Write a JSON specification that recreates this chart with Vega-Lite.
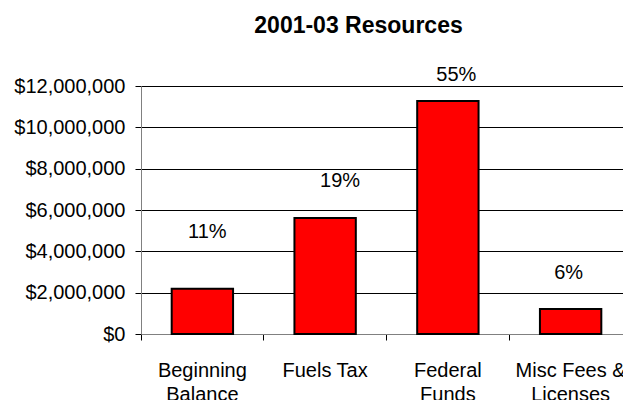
{
  "$schema": "https://vega.github.io/schema/vega-lite/v6.json",
  "width": 482,
  "height": 248,
  "autosize": {"type": "none"},
  "padding": {"left": 141, "top": 86, "right": 0, "bottom": 66},
  "background": "white",
  "title": {
    "text": "2001-03 Resources",
    "font": "Liberation Sans",
    "fontSize": 23,
    "fontWeight": "bold",
    "color": "#000000",
    "anchor": "middle",
    "dx": -23.5,
    "baseline": "alphabetic",
    "offset": 9
  },
  "config": {
    "view": {"stroke": null},
    "axis": {"labelFont": "Liberation Sans", "labelFontSize": 20, "labelColor": "#000000"}
  },
  "data": {
    "values": [
      {"category": "Beginning Balance", "amount": 2190000, "share": "11%"},
      {"category": "Fuels Tax", "amount": 5610000, "share": "19%"},
      {"category": "Federal Funds", "amount": 11280000, "share": "55%"},
      {"category": "Misc Fees & Licenses", "amount": 1210000, "share": "6%"}
    ]
  },
  "resolve": {"axis": {"x": "independent"}},
  "layer": [
    {
      "mark": {"type": "bar", "fill": "#ff0000", "stroke": "#000000", "strokeWidth": 2},
      "encoding": {
        "x": {
          "field": "category", "type": "nominal", "sort": null,
          "scale": {"range": [0, 491], "paddingInner": 0.5, "paddingOuter": 0.25},
          "axis": {
            "orient": "bottom", "title": null, "labels": false, "grid": false,
            "domain": true, "domainColor": "#808080", "domainWidth": 1,
            "ticks": true, "tickSize": 6, "tickColor": "#000000", "bandPosition": -0.5
          }
        },
        "y": {
          "field": "amount", "type": "quantitative",
          "scale": {"domain": [0, 12000000], "nice": false},
          "axis": {
            "title": null, "values": [0, 2000000, 4000000, 6000000, 8000000, 10000000, 12000000],
            "format": "$,.0f", "grid": true, "gridColor": "#000000", "gridWidth": 1, "gridOpacity": 1,
            "domainColor": "#808080", "tickColor": "#000000", "tickSize": 6, "labelPadding": 10,
            "labelBaseline": "middle"
          }
        }
      }
    },
    {
      "transform": [{"filter": "datum.category == 'Beginning Balance'"}],
      "mark": {"type": "text", "font": "Liberation Sans", "fontSize": 20, "baseline": "middle", "dx": 5, "dy": -57, "color": "#000000"},
      "encoding": {
        "x": {
          "field": "category", "type": "nominal", "sort": null,
          "axis": {
            "orient": "bottom", "title": null, "labelAngle": 0, "ticks": false, "tickSize": 0, "domain": false, "grid": false,
            "labelPadding": 26, "labelBaseline": "top", "labelLineHeight": 24, "labelLimit": 0,
            "labelExpr": "datum.value == 'Beginning Balance' ? ['Beginning','Balance'] : datum.value == 'Federal Funds' ? ['Federal','Funds'] : datum.value == 'Misc Fees & Licenses' ? ['Misc Fees &','Licenses'] : datum.label"
          }
        },
        "y": {"field": "amount", "type": "quantitative"},
        "text": {"field": "share"}
      }
    },
    {
      "transform": [{"filter": "datum.category == 'Fuels Tax'"}],
      "mark": {"type": "text", "font": "Liberation Sans", "fontSize": 20, "baseline": "middle", "dx": 15, "dy": -36.6, "color": "#000000"},
      "encoding": {
        "x": {"field": "category", "type": "nominal", "sort": null, "axis": null},
        "y": {"field": "amount", "type": "quantitative"},
        "text": {"field": "share"}
      }
    },
    {
      "transform": [{"filter": "datum.category == 'Federal Funds'"}],
      "mark": {"type": "text", "font": "Liberation Sans", "fontSize": 20, "baseline": "middle", "dx": 8.5, "dy": -26, "color": "#000000"},
      "encoding": {
        "x": {"field": "category", "type": "nominal", "sort": null, "axis": null},
        "y": {"field": "amount", "type": "quantitative"},
        "text": {"field": "share"}
      }
    },
    {
      "transform": [{"filter": "datum.category == 'Misc Fees & Licenses'"}],
      "mark": {"type": "text", "font": "Liberation Sans", "fontSize": 20, "baseline": "middle", "dx": -2, "dy": -36, "color": "#000000"},
      "encoding": {
        "x": {"field": "category", "type": "nominal", "sort": null, "axis": null},
        "y": {"field": "amount", "type": "quantitative"},
        "text": {"field": "share"}
      }
    }
  ]
}
